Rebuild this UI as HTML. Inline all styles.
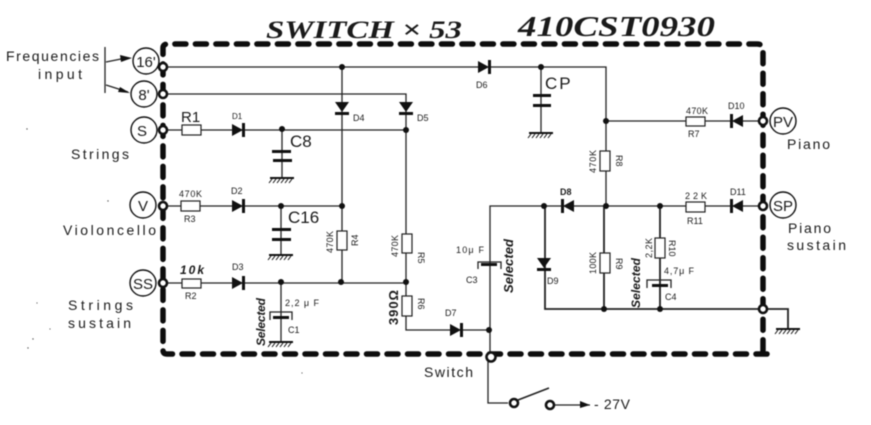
<!DOCTYPE html>
<html><head><meta charset="utf-8"><style>
html,body{margin:0;padding:0;background:#fff}
svg{display:block;filter:blur(.4px)}
text{font-family:"Liberation Sans",sans-serif;fill:#1a1a1a}
.t{font-size:14px}
.s{font-size:9px}
.w{stroke:#222;stroke-width:1.3;fill:none}
.r{stroke:#222;stroke-width:1.2;fill:#fff}
.c{stroke:#111;stroke-width:1.4;fill:#fff}
.g{stroke:#111;stroke-width:2.6;fill:#fff}
.b{font-family:"Liberation Sans",sans-serif;font-weight:bold;font-style:italic}
</style></head><body>
<svg width="871" height="425" viewBox="0 0 871 425" xmlns="http://www.w3.org/2000/svg">
<defs>
<g id="dr"><path d="M-6,-6 L5,0 L-6,6Z" fill="#111"/><rect x="4" y="-7" width="3" height="14" fill="#111"/></g>
<g id="dd"><path d="M-7,-6 L7,-6 L0,4Z" fill="#111"/><rect x="-7" y="4" width="14" height="3" fill="#111"/></g>
<g id="gnd"><path d="M-12,0H12" stroke="#111" stroke-width="2"/><path d="M-10,1l-3,4M-6,1l-3,4M-2,1l-3,4M2,1l-3,4M6,1l-3,4M10,1l-3,4" stroke="#111" stroke-width="1"/></g>
</defs>
<rect width="871" height="425" fill="#fff"/>
<!-- wires -->
<path class="w" d="M167,67H606V206M167,94H406V330H490M342,67V282M167,130H406M167,206H342M167,283H406M606,121H763M490,357V206H763M282,130V178M281,206V255M281,283V342M541,67V133"/>
<path class="w" style="stroke-width:1.8" d="M545,206V309H763H788V329M660,206V309M604,206V309"/>
<path class="w" d="M488,361V403H508M554,405H590"/>
<path class="w" style="stroke-width:1.6" d="M518,400L549,388"/>
<path d="M580,401L590,405L580,408Z" fill="#111"/>
<path class="w" d="M105,47V93M106,62L126,58M106,85L128,92"/>
<path d="M120,55L132,58L121,62Z M120,87L130,93L118,92Z" fill="#111"/>
<!-- specks -->
<g fill="#555"><circle cx="27" cy="129" r=".7"/><circle cx="108" cy="201" r=".7"/><circle cx="37" cy="303" r=".6"/><circle cx="50" cy="329" r=".6"/><circle cx="33" cy="339" r=".7"/><circle cx="28" cy="348" r=".7"/><circle cx="302" cy="373" r=".6"/></g>
<!-- border -->
<path d="M767,354H167Q163,354 163,350V48Q163,44 168,44H757Q763,44 763,50V350Q763,354 758,354" fill="none" stroke="#0d0d0d" stroke-width="5.5" stroke-linecap="round" stroke-dasharray="11 9.5"/>
<!-- resistors -->
<g class="r">
<rect x="182" y="125" width="19" height="10"/><rect x="181" y="201" width="19" height="10"/><rect x="182" y="279" width="19" height="9"/>
<rect x="686" y="117" width="19" height="9"/><rect x="686" y="202" width="19" height="10"/>
<rect x="600" y="151" width="10" height="20"/><rect x="600" y="253" width="10" height="20"/><rect x="655" y="238" width="10" height="20"/>
<rect x="337" y="231" width="10" height="19"/><rect x="402" y="234" width="10" height="19"/><rect x="402" y="296" width="10" height="20"/>
</g>
<!-- diodes -->
<use href="#dr" x="238" y="130"/><use href="#dr" x="238" y="206"/><use href="#dr" x="238" y="283"/>
<use href="#dr" x="484" y="67"/><use href="#dr" x="456" y="330"/>
<use href="#dd" x="342" y="108"/><use href="#dd" x="406" y="108"/><use href="#dd" x="544" y="264"/>
<g transform="translate(568,206) scale(-1,1)"><use href="#dr"/></g>
<g transform="translate(737,121) scale(-1,1)"><use href="#dr"/></g>
<g transform="translate(737,206) scale(-1,1)"><use href="#dr"/></g>
<!-- caps -->
<g fill="#111">
<rect x="272" y="150" width="19" height="3"/><rect x="273" y="159" width="19" height="3"/>
<rect x="272" y="228" width="19" height="3"/><rect x="272" y="238" width="19" height="3"/>
<rect x="533" y="94" width="18" height="3"/><rect x="533" y="104" width="18" height="3"/>
<rect x="273" y="316" width="16" height="3"/><rect x="481" y="263" width="16" height="3"/><rect x="652" y="284" width="16" height="3"/>
</g>
<path class="w" d="M270,320V312H292V320M478,269V262H501V269M647,288V280H671V288"/>
<use href="#gnd" x="282" y="178"/><use href="#gnd" x="281" y="255"/><use href="#gnd" x="281" y="342"/><use href="#gnd" x="541" y="133"/><use href="#gnd" x="788" y="329"/>
<!-- junctions -->
<g fill="#111">
<circle cx="342" cy="67" r="3"/><circle cx="541" cy="67" r="3"/><circle cx="606" cy="121" r="3"/><circle cx="282" cy="129" r="3"/><circle cx="406" cy="130" r="3"/>
<circle cx="281" cy="206" r="3"/><circle cx="342" cy="206" r="3"/><circle cx="281" cy="282" r="3"/><circle cx="341" cy="282" r="3"/><circle cx="406" cy="282" r="3"/>
<circle cx="544" cy="206" r="3"/><circle cx="606" cy="206" r="3"/><circle cx="660" cy="206" r="3"/><circle cx="604" cy="309" r="3"/><circle cx="660" cy="309" r="3"/><circle cx="489" cy="330" r="3"/>
</g>
<!-- terminals -->
<g class="g">
<circle cx="163" cy="67" r="4"/><circle cx="163" cy="94" r="4"/><circle cx="163" cy="130" r="4"/><circle cx="163" cy="206" r="4"/><circle cx="163" cy="283" r="4"/>
<circle cx="763" cy="121" r="4"/><circle cx="763" cy="206" r="4"/><circle cx="763" cy="309" r="4"/><circle cx="491" cy="357" r="4.5"/>
<circle cx="514" cy="403" r="4"/><circle cx="550" cy="405" r="4"/>
</g>
<g class="c">
<circle cx="146" cy="61" r="13"/><circle cx="144" cy="94" r="13"/><circle cx="144" cy="130" r="13"/><circle cx="143" cy="205" r="13"/><circle cx="143" cy="283" r="13"/><circle cx="783" cy="121" r="13"/><circle cx="783" cy="205" r="13"/>
</g>
<!-- circle labels -->
<g font-size="15" text-anchor="middle">
<text x="146" y="67">16'</text><text x="144" y="100">8'</text><text x="142" y="136">S</text><text x="143" y="211">V</text><text x="143" y="289">SS</text><text x="783" y="127">PV</text><text x="783" y="211">SP</text>
</g>
<!-- titles -->
<text class="b" x="266" y="38" font-size="25" textLength="196" lengthAdjust="spacingAndGlyphs" style="font-family:'Liberation Serif',serif">SWITCH × 53</text>
<text class="b" x="518" y="36" font-size="28" textLength="197" lengthAdjust="spacingAndGlyphs" style="font-family:'Liberation Serif',serif">410CST0930</text>
<!-- side labels -->
<text class="t" x="6" y="61" textLength="93">Frequencies</text>
<text class="t" x="38" y="79" textLength="44">input</text>
<text class="t" x="71" y="159" textLength="58">Strings</text>
<text class="t" x="63" y="235" textLength="93">Violoncello</text>
<text class="t" x="68" y="310" textLength="65">Strings</text>
<text class="t" x="68" y="328" textLength="63">sustain</text>
<text class="t" x="787" y="149" textLength="43">Piano</text>
<text class="t" x="788" y="233" textLength="43">Piano</text>
<text class="t" x="787" y="250" textLength="59">sustain</text>
<text class="t" x="424" y="377" textLength="49">Switch</text>
<text font-size="14" x="594" y="409" textLength="36">- 27V</text>
<!-- component labels -->
<text font-size="15" x="181" y="122">R1</text>
<text font-size="17" x="290" y="147">C8</text>
<text font-size="17" x="288" y="223">C16</text>
<text font-size="17" x="545" y="89" letter-spacing="2">CP</text>
<g class="s">
<text x="232" y="119" font-size="8">D1</text><text x="231" y="194">D2</text><text x="232" y="270">D3</text>
<text x="353" y="121">D4</text><text x="417" y="121">D5</text><text x="476" y="88">D6</text><text x="445" y="316">D7</text>
<text x="179" y="197" textLength="23">470K</text><text x="184" y="222">R3</text><text x="185" y="299">R2</text>
<text x="686" y="114" textLength="22">470K</text><text x="688" y="137">R7</text>
<text x="728" y="109">D10</text><text x="685" y="199" textLength="22">22K</text><text x="730" y="195">D11</text><text x="687" y="224">R11</text>
<text x="560" y="195" font-weight="bold">D8</text><text x="547" y="284">D9</text><text x="456" y="253" textLength="28">10μ F</text><text x="466" y="283">C3</text>
<text x="664" y="274" textLength="30">4,7μ F</text><text x="665" y="300">C4</text>
<text x="285" y="306" textLength="34">2,2 μ F</text><text x="288" y="333">C1</text>
</g>
<g class="s">
<text transform="translate(333,253) rotate(-90)" textLength="22">470K</text>
<text transform="translate(358,246) rotate(-90)">R4</text>
<text transform="translate(398,257) rotate(-90)" textLength="22">470K</text>
<text transform="translate(418,252) rotate(90)">R5</text>
<text transform="translate(418,298) rotate(90)">R6</text>
<text transform="translate(596,173) rotate(-90)" textLength="23">470K</text>
<text transform="translate(616,155) rotate(90)">R8</text>
<text transform="translate(596,274) rotate(-90)" textLength="22">100K</text>
<text transform="translate(616,258) rotate(90)">R9</text>
<text transform="translate(652,258) rotate(-90)" textLength="20">2,2K</text>
<text transform="translate(669,240) rotate(90)">R10</text>
</g>
<g class="b" font-size="12">
<text x="180" y="274" font-size="12" textLength="24">10k</text>
<text transform="translate(265,346) rotate(-90)" textLength="48" style="font-size:12px">Selected</text>
<text transform="translate(513,293) rotate(-90)" textLength="54" style="font-size:13px">Selected</text>
<text transform="translate(640,308) rotate(-90)" textLength="50" style="font-size:12px">Selected</text>
<text transform="translate(398,325) rotate(-90)" textLength="35" style="font-size:13px;font-style:normal">390Ω</text>
</g>
</svg>
</body></html>
